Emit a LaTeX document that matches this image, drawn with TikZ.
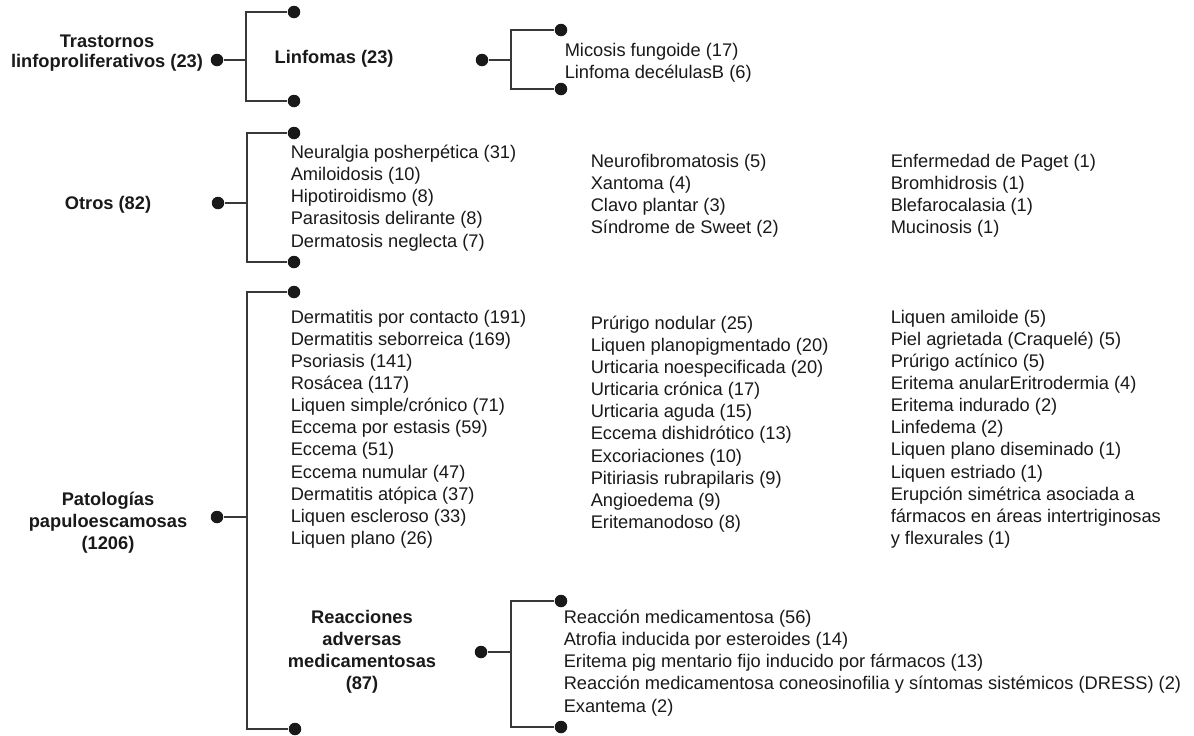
\documentclass[tikz,border=0pt]{standalone}
\usepackage{fontspec}
\setmainfont{Liberation Sans}
\begin{document}
\begin{tikzpicture}[x=0.02cm,y=-0.02cm,line width=0.85pt,draw=black!78,
    dot/.style={circle,fill=black!90,inner sep=0pt,minimum size=0.25cm},
    head/.style={font=\fontsize{10.4}{12.6}\selectfont\bfseries,align=center,text=black!90,inner sep=0pt},
    items/.style={font=\fontsize{10.4}{12.6}\selectfont,anchor=west,align=left,text=black!90,inner sep=0pt}]
    \useasboundingbox (0,0) rectangle (1194,735);
    % trastornos linfoproliferativos
    \node[head,font=\fontsize{10.4}{11.6}\selectfont\bfseries] (tras) at (107,53) {Trastornos\\linfoproliferativos (23)};
    \node[dot] (d1) at (217,60) {};
    \coordinate (j1) at (246,60);
    \node[dot] (d1t) at (294,12) {};
    \node[dot] (d1b) at (294,101) {};
    \draw (d1) -- (j1);
    \draw (d1t) -| (j1) |- (d1b);
    \node[head,anchor=west] (linf) at (274,59) {Linfomas (23)};
    \node[dot] (d2) at (482,60) {};
    \coordinate (j2) at (511,60);
    \node[dot] (d2t) at (561,30) {};
    \node[dot] (d2b) at (561,89) {};
    \draw (d2) -- (j2);
    \draw (d2t) -| (j2) |- (d2b);
    \node[items] (linfa) at (564,63) {Micosis fungoide (17)\\Linfoma decélulasB (6)};
    % otros
    \node[head] (otros) at (108,205) {Otros (82)};
    \node[dot] (d3) at (218,203) {};
    \coordinate (j3) at (247,203);
    \node[dot] (d3t) at (294,133) {};
    \node[dot] (d3b) at (294,262) {};
    \draw (d3) -- (j3);
    \draw (d3t) -| (j3) |- (d3b);
    \node[items] (otrosa) at (290,198) {Neuralgia posherpética (31)\\Amiloidosis (10)\\Hipotiroidismo (8)\\Parasitosis delirante (8)\\Dermatosis neglecta (7)};
    \node[items] (otrosb) at (590,196) {Neurofibromatosis (5)\\Xantoma (4)\\Clavo plantar (3)\\Síndrome de Sweet (2)};
    \node[items] (otrosc) at (890,196) {Enfermedad de Paget (1)\\Bromhidrosis (1)\\Blefarocalasia (1)\\Mucinosis (1)};
    % patologias papuloescamosas
    \node[head] (pato) at (108,523) {Patologías\\papuloescamosas\\(1206)};
    \node[dot] (d4) at (217,517) {};
    \coordinate (j4) at (247,517);
    \node[dot] (d4t) at (294,292) {};
    \node[dot] (d4b) at (295,729) {};
    \draw (d4) -- (j4);
    \draw (d4t) -| (j4) |- (d4b);
    \node[items] (patoa) at (290,429) {Dermatitis por contacto (191)\\Dermatitis seborreica (169)\\Psoriasis (141)\\Rosácea (117)\\Liquen simple/crónico (71)\\Eccema por estasis (59)\\Eccema (51)\\Eccema numular (47)\\Dermatitis atópica (37)\\Liquen escleroso (33)\\Liquen plano (26)};
    \node[items] (patob) at (590,424) {Prúrigo nodular (25)\\Liquen planopigmentado (20)\\Urticaria noespecificada (20)\\Urticaria crónica (17)\\Urticaria aguda (15)\\Eccema dishidrótico (13)\\Excoriaciones (10)\\Pitiriasis rubrapilaris (9)\\Angioedema (9)\\Eritemanodoso (8)};
    \node[items] (patoc) at (890,429) {Liquen amiloide (5)\\Piel agrietada (Craquelé) (5)\\Prúrigo actínico (5)\\Eritema anularEritrodermia (4)\\Eritema indurado (2)\\Linfedema (2)\\Liquen plano diseminado (1)\\Liquen estriado (1)\\Erupción simétrica asociada a\\fármacos en áreas intertriginosas\\y flexurales (1)};
    % reacciones adversas
    \node[head] (reac) at (362,652) {Reacciones\\adversas\\medicamentosas\\(87)};
    \node[dot] (d5) at (481,652) {};
    \coordinate (j5) at (511,652);
    \node[dot] (d5t) at (561,601) {};
    \node[dot] (d5b) at (561,727) {};
    \draw (d5) -- (j5);
    \draw (d5t) -| (j5) |- (d5b);
    \node[items] (reaca) at (563,663) {Reacción medicamentosa (56)\\Atrofia inducida por esteroides (14)\\Eritema pig mentario fijo inducido por fármacos (13)\\Reacción medicamentosa coneosinofilia y síntomas sistémicos (DRESS) (2)\\Exantema (2)};
\end{tikzpicture}
\end{document}
